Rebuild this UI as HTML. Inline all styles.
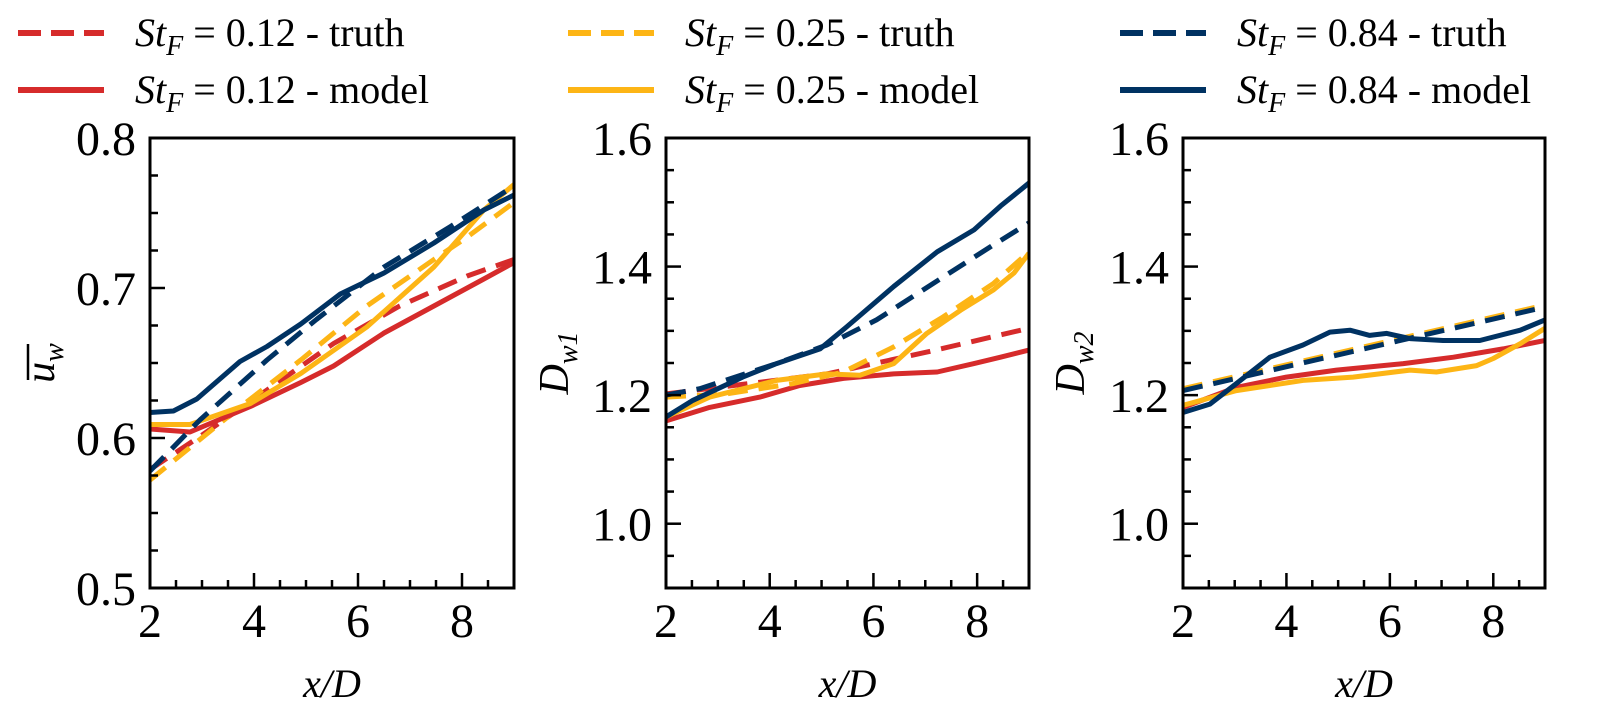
<!DOCTYPE html>
<html><head><meta charset="utf-8"><style>
html,body{margin:0;padding:0;background:#fff;}
svg{display:block;font-family:"Liberation Serif",serif;}
</style></head><body>
<svg id="chart" width="1602" height="721" viewBox="0 0 1602 721" xmlns="http://www.w3.org/2000/svg">
<g id="legend"></g>
<g id="panels"></g>
</svg>
<script>
// ---- data ----
const xTicks = [2, 4, 6, 8];
const yTicks1 = [0.5, 0.6, 0.7, 0.8];
const yTicks2 = [1.0, 1.2, 1.4, 1.6];
const yTicks3 = [1.0, 1.2, 1.4, 1.6];
const yTickLabels1 = ["0.5","0.6","0.7","0.8"];
const yTickLabels2 = ["1.0","1.2","1.4","1.6"];
// panel 1 (u_w)
const p1RedModelX = [2,2.77,3.93,4.9,5.53,6.5,7.46,8.42,9];
const p1RedModelY = [0.606,0.604,0.621,0.637,0.648,0.670,0.688,0.706,0.717];
const p1RedTruthX = [2,2.96,4.25,5.53,6.8,8.1,9];
const p1RedTruthY = [0.579,0.601,0.632,0.663,0.688,0.708,0.719];
const p1YelModelX = [2,2.77,3.93,4.9,6.17,7.46,8.42,9];
const p1YelModelY = [0.609,0.609,0.623,0.643,0.674,0.714,0.752,0.769];
const p1YelTruthX = [2,3.6,4.9,6.17,7.46,8.1,9];
const p1YelTruthY = [0.572,0.617,0.652,0.688,0.719,0.734,0.757];
const p1NavModelX = [2,2.45,2.9,3.73,4.25,4.9,5.66,6.5,7.46,8.42,9];
const p1NavModelY = [0.617,0.618,0.626,0.651,0.661,0.676,0.696,0.710,0.730,0.752,0.762];
const p1NavTruthX = [2,2.96,4.25,5.2,6.5,7.78,9];
const p1NavTruthY = [0.578,0.612,0.652,0.679,0.714,0.741,0.768];
// panel 2 (D_w1)
const p2RedModelX = [2,2.84,3.81,4.58,5.42,6.39,7.23,7.94,8.45,9];
const p2RedModelY = [1.160,1.181,1.197,1.215,1.226,1.233,1.236,1.249,1.259,1.270];
const p2RedTruthX = [2,5.1,7.03,9];
const p2RedTruthY = [1.202,1.233,1.267,1.304];
const p2YelModelX = [2,2.84,4.13,5.1,5.74,6.39,7.03,7.68,8.32,8.71,9];
const p2YelModelY = [1.166,1.197,1.223,1.233,1.231,1.249,1.296,1.332,1.364,1.390,1.421];
const p2YelTruthX = [2,3.16,4.45,5.42,6.39,7.35,8.32,9];
const p2YelTruthY = [1.197,1.202,1.218,1.236,1.275,1.322,1.374,1.423];
const p2NavModelX = [2,2.52,3.48,4.13,4.97,5.48,6.39,7.23,7.94,8.45,9];
const p2NavModelY = [1.166,1.192,1.228,1.249,1.272,1.306,1.369,1.423,1.457,1.494,1.530];
const p2NavTruthX = [2,2.65,4.13,5.1,6.06,7.35,8.32,9];
const p2NavTruthY = [1.200,1.210,1.249,1.278,1.317,1.384,1.434,1.468];
// panel 3 (D_w2)
const p3RedModelX = [2,3.03,4,4.97,6.26,7.23,8.19,9];
const p3RedModelY = [1.181,1.212,1.228,1.239,1.249,1.259,1.272,1.285];
const p3YelModelX = [2,3.03,4.32,5.29,6.39,6.9,7.68,8,8.52,9];
const p3YelModelY = [1.184,1.207,1.223,1.228,1.239,1.236,1.246,1.257,1.280,1.304];
const p3YelTruthX = [2,9];
const p3YelTruthY = [1.210,1.340];
const p3NavModelX = [2,2.52,3.03,3.68,4.32,4.84,5.23,5.61,5.94,6.39,7.03,7.74,8.52,9];
const p3NavModelY = [1.173,1.186,1.218,1.259,1.278,1.298,1.301,1.293,1.296,1.288,1.285,1.285,1.301,1.317];
const p3NavTruthX = [2,9];
const p3NavTruthY = [1.207,1.337];

const RED="#D62B2B", YEL="#FDB515", NAV="#003262";
const NS="http://www.w3.org/2000/svg";
function mk(tag, attrs, parent){const e=document.createElementNS(NS,tag);for(const k in attrs)e.setAttribute(k,attrs[k]);if(parent)parent.appendChild(e);return e;}

const panelsG=document.getElementById('panels');
const panels=[
 {name:'uw',left:150,right:514,ymin:0.5,ymax:0.8,ticks:yTicks1,labels:yTickLabels1,minor:0.025,ylabCx:42,
  series:[[p1RedTruthX,p1RedTruthY,RED,true,'red-truth'],[p1YelTruthX,p1YelTruthY,YEL,true,'yellow-truth'],[p1RedModelX,p1RedModelY,RED,false,'red-model'],[p1YelModelX,p1YelModelY,YEL,false,'yellow-model'],[p1NavTruthX,p1NavTruthY,NAV,true,'navy-truth'],[p1NavModelX,p1NavModelY,NAV,false,'navy-model']]},
 {name:'dw1',left:666,right:1029,ymin:0.9,ymax:1.6,ticks:yTicks2,labels:yTickLabels2,minor:0.05,ylabCx:556,
  series:[[p2RedTruthX,p2RedTruthY,RED,true,'red-truth'],[p2RedModelX,p2RedModelY,RED,false,'red-model'],[p2YelTruthX,p2YelTruthY,YEL,true,'yellow-truth'],[p2YelModelX,p2YelModelY,YEL,false,'yellow-model'],[p2NavTruthX,p2NavTruthY,NAV,true,'navy-truth'],[p2NavModelX,p2NavModelY,NAV,false,'navy-model']]},
 {name:'dw2',left:1183,right:1545,ymin:0.9,ymax:1.6,ticks:yTicks3,labels:yTickLabels2,minor:0.05,ylabCx:1072,
  series:[[p3RedModelX,p3RedModelY,RED,false,'red-model'],[p3YelModelX,p3YelModelY,YEL,false,'yellow-model'],[p3YelTruthX,p3YelTruthY,YEL,true,'yellow-truth'],[p3NavModelX,p3NavModelY,NAV,false,'navy-model'],[p3NavTruthX,p3NavTruthY,NAV,true,'navy-truth']]}
];
const TOP=138, BOT=588;
panels.forEach((p,pi)=>{
  const g=mk('g',{},panelsG);
  
  
  const sx=v=>p.left+(v-2)/7*(p.right-p.left);
  const sy=v=>BOT-(v-p.ymin)/(p.ymax-p.ymin)*(BOT-TOP);
  const clipId='clip'+pi;
  const cp=mk('clipPath',{id:clipId},g);mk('rect',{x:p.left,y:TOP,width:p.right-p.left,height:BOT-TOP},cp);
  const sg=mk('g',{'clip-path':'url(#'+clipId+')'},g);
  p.series.forEach(s=>{
    if(!s[0].length)return;
    const d=s[0].map((x,i)=>(i?'L':'M')+sx(x).toFixed(1)+' '+sy(s[1][i]).toFixed(1)).join(' ');
    const path=mk('path',{d:d,fill:'none',stroke:s[2],'stroke-width':5,'stroke-linejoin':'round'},sg);
    if(s[3])path.setAttribute('stroke-dasharray','20 11');
    
    
  });
  for(let v=2.5;v<9;v+=0.5){
    const major=Math.abs(v-Math.round(v/2)*2)<1e-6;
    mk('line',{x1:sx(v),x2:sx(v),y1:BOT,y2:BOT-(major?15:8),stroke:'#000','stroke-width':2.5},g);
  }
  xTicks.forEach(v=>{
    const t=mk('text',{x:sx(v),y:637,'font-size':48,'text-anchor':'middle'},g);t.textContent=v;
    
    
  });
  for(let v=p.ymin+p.minor;v<p.ymax-1e-6;v+=p.minor){
    const major=p.ticks.some(t=>Math.abs(t-v)<1e-6);
    mk('line',{x1:p.left,x2:p.left+(major?15:8),y1:sy(v),y2:sy(v),stroke:'#000','stroke-width':2.5},g);
  }
  p.ticks.forEach((v,i)=>{
    const t=mk('text',{x:p.left-14,y:sy(v)+17,'font-size':48,'text-anchor':'end'},g);t.textContent=p.labels[i];
    
    
  });
  mk('rect',{x:p.left,y:TOP,width:p.right-p.left,height:BOT-TOP,fill:'none',stroke:'#000','stroke-width':3},g);
  const xl=mk('text',{x:(p.left+p.right)/2,y:697,'font-size':40,'text-anchor':'middle','font-style':'italic'},g);
  xl.textContent='x/D';
  
  
  const yg=mk('g',{transform:'translate('+(p.ylabCx+12)+',363) rotate(-90)'},g);
  const yl=mk('text',{x:0,y:0,'font-size':42,'text-anchor':'middle','font-style':'italic'},yg);
  
  
  if(pi===0){
    yl.innerHTML='u<tspan font-size="28" dy="9">w</tspan>';
    mk('line',{x1:-17,x2:19,y1:-26,y2:-26,stroke:'#000','stroke-width':2.5},yg);
  } else {
    yl.innerHTML='D<tspan font-size="28" dy="9">w'+(pi===1?'1':'2')+'</tspan>';
  }
});
const lg=document.getElementById('legend');
const legendItems=[
 [18,33,RED,true,'0.12','truth'],[18,90,RED,false,'0.12','model'],
 [568,33,YEL,true,'0.25','truth'],[568,90,YEL,false,'0.25','model'],
 [1120,33,NAV,true,'0.84','truth'],[1120,90,NAV,false,'0.84','model']];
legendItems.forEach(it=>{
  const g=mk('g',{},lg);
  
  
  const l=mk('line',{x1:it[0],x2:it[0]+86,y1:it[1],y2:it[1],stroke:it[2],'stroke-width':6},g);
  if(it[3])l.setAttribute('stroke-dasharray','23 10');
  const t=mk('text',{x:it[0]+117,y:it[1]+13,'font-size':40},g);
  t.innerHTML='<tspan font-style="italic">St</tspan><tspan font-style="italic" font-size="28" dy="9">F</tspan><tspan dy="-9"> = '+it[4]+' - '+it[5]+'</tspan>';
});
</script>
</body></html>
